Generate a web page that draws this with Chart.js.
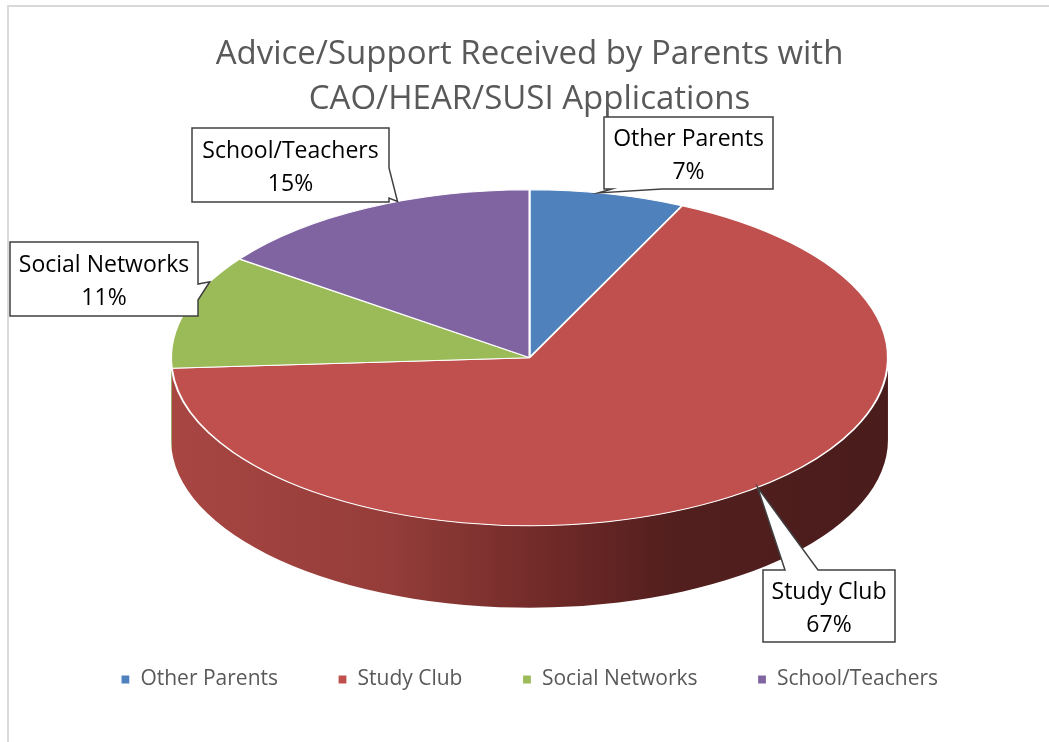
<!DOCTYPE html>
<html>
<head>
<meta charset="utf-8">
<script src="https://cdn.jsdelivr.net/npm/chart.js@4.4.1/dist/chart.umd.min.js"></script>
<style>
html,body{margin:0;padding:0;background:#fff;overflow:hidden}
#wrap{position:relative;width:1049px;height:742px}
#wrap canvas{position:absolute;left:0;top:0}
#frame{position:absolute;left:7px;top:5px;width:1100px;height:800px;border-left:2px solid #d9d9d9;border-top:2px solid #d9d9d9;pointer-events:none}
</style>
</head>
<body>
<div id="wrap"><canvas id="chart" width="1049" height="742"></canvas><div id="frame"></div></div>
<script>
const TITLE=['Advice/Support Received by Parents with','CAO/HEAR/SUSI Applications'];
const CATEGORIES=['Other Parents','Study Club','Social Networks','School/Teachers'];
const SHARES=[7,67,11,15];
const COLORS=['#4F81BD','#C0504D','#9BBB59','#8064A2'];
const SIDE_STOPS=[
  [[0,'#3f6a9c'],[1,'#1f3552']],
  [[0,'#a84642'],[0.3,'#953d3a'],[0.55,'#6c2826'],[0.7,'#521f1e'],[1,'#4a1c1c']],
  [[0,'#7f9b49'],[1,'#4c5e2b']],
  [[0,'#6a5387'],[1,'#3d2f4f']]
];

// layout of the 3d pie (ratios of the chart area) and of the callouts
const PIE_W=0.69, TILT=0.4686, DEPTH=0.2287;
const FONT='"Open Sans"';
const ANCHOR_FRAC=[0.44,0.478,0.77,0.6];
const BOXES=[
  {x:604,y:117,w:169,h:72,side:'bottom',b1:8,b2:58},
  {x:763,y:570,w:132,h:72,side:'top',b1:22,b2:55},
  {x:10,y:242,w:188,h:74,side:'right',b1:42,b2:58},
  {x:192,y:128,w:197,h:74,side:'right',b1:40,b2:70}
];

function geom(chart){
  const a=chart.getDatasetMeta(0).data[0];
  const ca=chart.chartArea;
  const rx=ca.width*PIE_W/2, ry=rx*TILT, depth=rx*DEPTH;
  return {ax:a.x,ay:a.y,r:a.outerRadius,rx,ry,depth,cx:(ca.left+ca.right)/2,cy:ca.top+ry};
}

const pie3d={
  id:'pie3d',
  beforeDatasetsDraw(chart){
    const g=geom(chart),ctx=chart.ctx;
    chart.getDatasetMeta(0).data.forEach((arc,i)=>{
      const s=Math.max(arc.startAngle,0),e=Math.min(arc.endAngle,Math.PI);
      if(e<=s)return;
      const grd=ctx.createLinearGradient(g.cx-g.rx,0,g.cx+g.rx,0);
      SIDE_STOPS[i].forEach(([o,c])=>grd.addColorStop(o,c));
      ctx.beginPath();
      ctx.ellipse(g.cx,g.cy,g.rx,g.ry,0,s,e,false);
      ctx.ellipse(g.cx,g.cy+g.depth,g.rx,g.ry,0,e,s,true);
      ctx.closePath();
      ctx.fillStyle=grd;ctx.fill();
    });
    ctx.save();
    ctx.translate(g.cx,g.cy);
    ctx.scale(g.rx/g.r,g.ry/g.r);
    ctx.translate(-g.ax,-g.ay);
  },
  afterDatasetsDraw(chart){
    const ctx=chart.ctx;ctx.restore();
    const g=geom(chart);
    chart.getDatasetMeta(0).data.forEach((arc,i)=>{
      const ang=arc.startAngle+ANCHOR_FRAC[i]*(arc.endAngle-arc.startAngle);
      const p=[g.cx+g.rx*Math.cos(ang),g.cy+g.ry*Math.sin(ang)];
      const b=BOXES[i],{x,y,w,h}=b;
      const pts=[[x,y]];
      if(b.side==='top')pts.push([x+b.b1,y],p,[x+b.b2,y]);
      pts.push([x+w,y]);
      if(b.side==='right')pts.push([x+w,y+b.b1],p,[x+w,y+b.b2]);
      pts.push([x+w,y+h]);
      if(b.side==='bottom')pts.push([x+b.b2,y+h],p,[x+b.b1,y+h]);
      pts.push([x,y+h]);
      if(b.side==='left')pts.push([x,y+b.b2],p,[x,y+b.b1]);
      ctx.save();
      ctx.beginPath();
      pts.forEach(([px,py],k)=>k?ctx.lineTo(px,py):ctx.moveTo(px,py));
      ctx.closePath();
      ctx.fillStyle='#fff';ctx.fill();
      ctx.lineWidth=1.5;ctx.strokeStyle='#404040';ctx.lineJoin='miter';ctx.stroke();
      ctx.fillStyle='#000';ctx.font=`23px ${FONT}`;ctx.textAlign='center';ctx.textBaseline='middle';
      ctx.fillText(CATEGORIES[i],x+w/2,y+h/2-14);
      ctx.fillText(SHARES[i]+'%',x+w/2,y+h/2+19);
      ctx.restore();
    });
  }
};

new Chart(document.getElementById('chart'),{
  type:'pie',
  data:{labels:CATEGORIES,datasets:[{data:SHARES,backgroundColor:COLORS,borderColor:'#ffffff',borderWidth:1.2}]},
  options:{
    responsive:false,animation:false,events:[],
    layout:{padding:{left:10,right:0,top:32.5,bottom:42}},
    plugins:{
      title:{display:true,text:TITLE,color:'#595959',font:{family:FONT,size:33,weight:'normal',lineHeight:1.36},padding:{top:0,bottom:67.5}},
      legend:{position:'bottom',labels:{color:'#595959',font:{family:FONT,size:21},boxWidth:9,boxHeight:9,padding:60}},
      tooltip:{enabled:false}
    }
  },
  plugins:[pie3d]
});
</script>
</body>
</html>
